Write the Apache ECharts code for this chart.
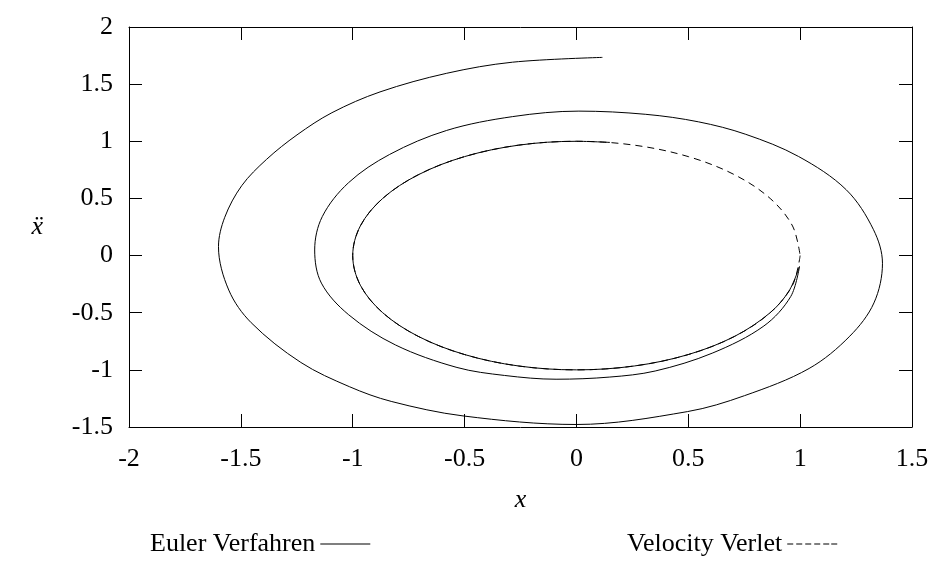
<!DOCTYPE html>
<html>
<head>
<meta charset="utf-8">
<script src="https://cdn.jsdelivr.net/npm/echarts@6/dist/echarts.min.js"></script>
<style>html,body{margin:0;padding:0;background:#fff}#c{width:941px;height:575px}</style>
</head>
<body>
<div id="c"></div>
<script>
// Tick values
const xTicks = [-2, -1.5, -1, -0.5, 0, 0.5, 1, 1.5];
const yTicks = [-1.5, -1, -0.5, 0, 0.5, 1, 1.5, 2];

// Velocity Verlet: closed orbit
const verletPoints = [
  [1,0],[0.966,-0.259],[0.866,-0.5],[0.707,-0.707],[0.5,-0.866],[0.259,-0.966],
  [0,-1],[-0.259,-0.966],[-0.5,-0.866],[-0.707,-0.707],[-0.866,-0.5],[-0.966,-0.259],
  [-1,0],[-0.966,0.259],[-0.866,0.5],[-0.707,0.707],[-0.5,0.866],[-0.259,0.966],
  [0,1],[0.259,0.966],[0.5,0.866],[0.707,0.707],[0.866,0.5],[0.966,0.259],[1,0]
];

// Euler: inner part lying on the unit orbit
const eulerInner = [
  [0.15,0.99],[0,1],[-0.259,0.966],[-0.5,0.866],[-0.707,0.707],[-0.866,0.5],
  [-0.966,0.259],[-1,0],[-0.966,-0.259],[-0.866,-0.5],[-0.707,-0.707],[-0.5,-0.866],
  [-0.259,-0.966],[0,-1],[0.259,-0.966],[0.5,-0.866],[0.707,-0.707],[0.866,-0.5],
  [0.95,-0.31],[0.997,-0.096]
];

// Euler: outward spiral
const eulerSpiral = [
  [0.997,-0.096],[0.958,-0.358],[0.838,-0.616],[0.607,-0.854],[0.352,-1.01],
  [0.149,-1.063],[-0.091,-1.082],[-0.321,-1.049],[-0.534,-0.979],[-0.809,-0.782],
  [-1.018,-0.518],[-1.14,-0.241],[-1.17,0.049],[-1.136,0.341],[-1.019,0.637],
  [-0.835,0.885],[-0.58,1.095],[-0.285,1.216],[0.011,1.264],[0.31,1.236],
  [0.546,1.17],[0.757,1.061],[0.993,0.867],[1.206,0.576],[1.328,0.226],
  [1.368,-0.067],[1.33,-0.414],[1.222,-0.705],[1.04,-0.988],[0.751,-1.226],
  [0.497,-1.365],[0,-1.478],[-0.507,-1.403],[-0.828,-1.276],[-1.015,-1.147],
  [-1.232,-0.935],[-1.454,-0.587],[-1.554,-0.302],[-1.6,0.078],[-1.572,0.335],
  [-1.496,0.612],[-1.385,0.842],[-1.249,1.056],[-1.093,1.25],[-0.878,1.432],
  [-0.58,1.595],[-0.286,1.692],[0.116,1.734]
];

const FONT = 'Liberation Serif';
const SMOOTH = 0.34;
const chart = echarts.init(document.getElementById('c'), null, {renderer: 'canvas'});

function fmt(v) { return String(v); }

const axisLineStyle = {show: true, onZero: false, lineStyle: {color: '#000', width: 1}};
const tickStyle = {show: true, inside: true, length: 13, lineStyle: {color: '#000', width: 1}};
const legendText = {color: '#000', fontFamily: FONT, fontSize: 26};
const solidIcon = 'path://M0,0h50v1h-50z';
const dashIcon = 'path://M0,0h6v1h-6z M9,0h6v1h-6z M18,0h6v1h-6z M27,0h6v1h-6z M36,0h6v1h-6z M44,0h6v1h-6z';

chart.setOption({
  animation: false,
  backgroundColor: '#fff',
  grid: {left: 129, right: 29, top: 27, bottom: 148, containLabel: false},
  xAxis: [
    {
      type: 'value', min: xTicks[0], max: xTicks[xTicks.length - 1], interval: 0.5,
      position: 'bottom',
      axisLine: axisLineStyle, axisTick: tickStyle, splitLine: {show: false},
      axisLabel: {color: '#000', fontFamily: FONT, fontSize: 26, margin: 19, formatter: fmt},
      name: 'x', nameLocation: 'middle', nameGap: 60,
      nameTextStyle: {color: '#000', fontFamily: FONT, fontSize: 26, fontStyle: 'italic'}
    },
    {
      type: 'value', min: xTicks[0], max: xTicks[xTicks.length - 1], interval: 0.5,
      position: 'top',
      axisLine: axisLineStyle, axisTick: tickStyle, splitLine: {show: false},
      axisLabel: {show: false}
    }
  ],
  yAxis: [
    {
      type: 'value', min: yTicks[0], max: yTicks[yTicks.length - 1], interval: 0.5,
      position: 'left',
      axisLine: axisLineStyle, axisTick: tickStyle, splitLine: {show: false},
      axisLabel: {color: '#000', fontFamily: FONT, fontSize: 26, margin: 16, formatter: fmt},
      name: 'ẍ', nameLocation: 'middle', nameGap: 86, nameRotate: 0,
      nameTextStyle: {color: '#000', fontFamily: FONT, fontSize: 26, fontStyle: 'italic'}
    },
    {
      type: 'value', min: yTicks[0], max: yTicks[yTicks.length - 1], interval: 0.5,
      position: 'right',
      axisLine: axisLineStyle, axisTick: tickStyle, splitLine: {show: false},
      axisLabel: {show: false}
    }
  ],
  legend: [
    {
      left: 145, top: 526, align: 'right', itemWidth: 50, itemHeight: 14,
      textStyle: legendText, data: [{name: 'Euler Verfahren', icon: solidIcon}]
    },
    {
      left: 622, top: 526, align: 'right', itemWidth: 50, itemHeight: 14,
      textStyle: legendText, data: [{name: 'Velocity Verlet', icon: dashIcon}]
    }
  ],
  series: [
    {
      name: 'Euler Verfahren', type: 'line', data: eulerInner, smooth: SMOOTH,
      symbol: 'none', showSymbol: false, xAxisIndex: 0, yAxisIndex: 0,
      lineStyle: {color: '#000', width: 1}, itemStyle: {color: '#000'}
    },
    {
      name: 'Euler Verfahren', type: 'line', data: eulerSpiral, smooth: SMOOTH,
      symbol: 'none', showSymbol: false, xAxisIndex: 0, yAxisIndex: 0,
      lineStyle: {color: '#000', width: 1}, itemStyle: {color: '#000'}
    },
    {
      name: 'Velocity Verlet', type: 'line', data: verletPoints, smooth: SMOOTH,
      symbol: 'none', showSymbol: false, xAxisIndex: 0, yAxisIndex: 0,
      lineStyle: {color: '#000', width: 1, type: [7, 5]}, itemStyle: {color: '#000'}
    }
  ]
});
</script>
</body>
</html>
